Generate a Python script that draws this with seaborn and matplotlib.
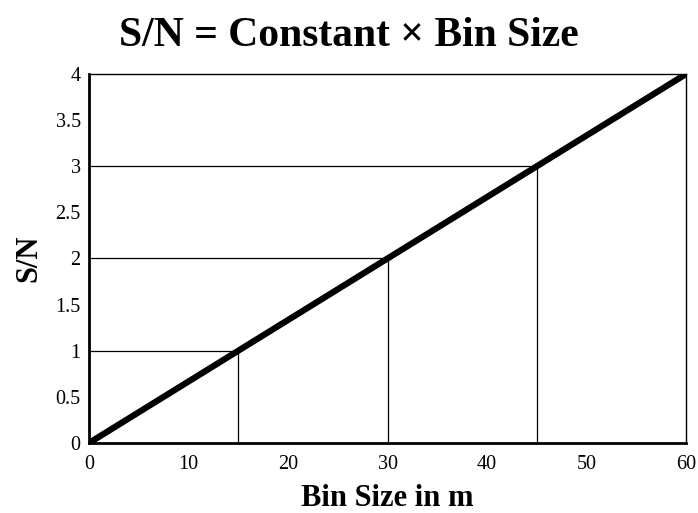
import numpy as np
import pandas as pd
import seaborn as sns
import matplotlib.pyplot as plt

# data
bin_size = [0, 60]
sn = [0, 4]
ref_bins = [15, 30, 45]
ref_sn = [1, 2, 3]
x_ticks = [0, 10, 20, 30, 40, 50, 60]
y_ticks = [0, 0.5, 1, 1.5, 2, 2.5, 3, 3.5, 4]
y_labels = ["0", "0.5", "1", "1.5", "2", "2.5", "3", "3.5", "4"]

sns.set_style("white")
plt.rcParams['font.family'] = ['Liberation Serif', 'DejaVu Serif']
plt.rcParams['text.color'] = 'black'
plt.rcParams['axes.labelcolor'] = 'black'
plt.rcParams['xtick.color'] = 'black'
plt.rcParams['ytick.color'] = 'black'

df = pd.DataFrame({"bin": bin_size, "sn": sn})

fig = plt.figure(figsize=(6.98, 5.13), dpi=100)
ax = fig.add_axes([0.1275, 0.1365, 0.8555, 0.7193])

# guide lines
ax.hlines(ref_sn, 0, ref_bins, colors="black", linewidth=0.9)
ax.vlines(ref_bins, 0, ref_sn, colors="black", linewidth=0.9)

sns.lineplot(data=df, x="bin", y="sn", color="black", linewidth=4.5, ax=ax,
             solid_capstyle="round")

ax.set_xlim(0, 60)
ax.set_ylim(0, 4)
ax.set_xticks(x_ticks)
ax.set_yticks(y_ticks)
ax.set_yticklabels(y_labels)
ax.tick_params(length=0, labelsize=14.5, pad=6)
ax.tick_params(axis="x", pad=9)

for side in ["left", "bottom"]:
    ax.spines[side].set_linewidth(2.0)
    ax.spines[side].set_color("black")
for side in ["top", "right"]:
    ax.spines[side].set_linewidth(1.0)
    ax.spines[side].set_color("black")

ax.set_xlabel("Bin Size in m", fontsize=22, fontweight="bold", labelpad=7)
ax.set_ylabel("S/N", fontsize=22, fontweight="bold", labelpad=9)
fig.text(0.5, 0.93, "S/N = Constant \u00d7 Bin Size", ha="center", va="center",
         fontsize=30, fontweight="bold")

fig.savefig("out.png", dpi=100)
